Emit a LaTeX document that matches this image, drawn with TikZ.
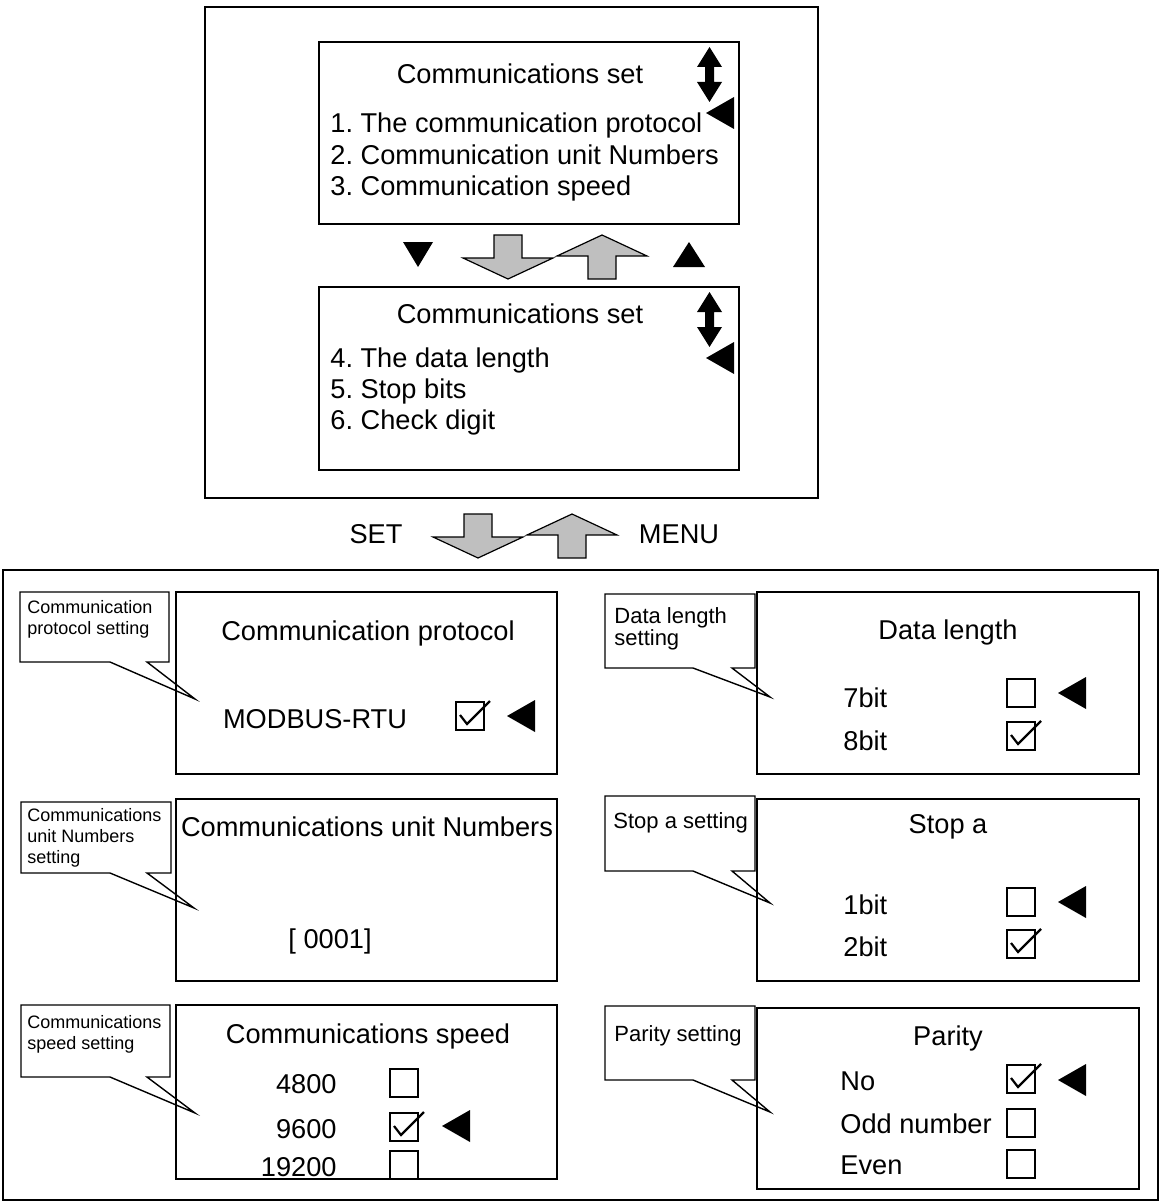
\documentclass[tikz,border=0pt]{standalone}
\usepackage{fontspec}
\setmainfont{Liberation Sans}
\frenchspacing
\tikzset{
  frame/.style={line width=1pt},
  panel/.style={line width=1.1pt},
  txt/.style={font=\fontsize{13.6}{16}\selectfont,inner sep=0pt},
  note/.style={font=\fontsize{9}{10.5}\selectfont,inner sep=0pt,align=left,anchor=north west},
  bignote/.style={font=\fontsize{11}{11}\selectfont,inner sep=0pt,align=left,anchor=north west},
  callout/.style={draw,fill=white,line width=0.7pt},
  pics/tick box/.style={code={
    \draw[line width=0.8pt] (-14,-14) rectangle (14,14);
    \draw[line width=1.1pt] (-10,-1) -- (-3,8) -- (20,-15);}},
  pics/empty box/.style={code={
    \draw[line width=0.8pt] (-14,-14) rectangle (14,14);}},
  pics/pointer/.style={code={
    \fill (0,0) -- (28,-16) -- (28,16) -- cycle;}},
  pics/scroll/.style={code={
    \fill (0,0) -- (12.5,20) -- (4.5,20) -- (4.5,35) -- (12.5,35) -- (0,55)
      -- (-12.5,35) -- (-4.5,35) -- (-4.5,20) -- (-12.5,20) -- cycle;}},
  pics/gray down/.style={code={
    \draw[fill=black!25,line width=0.6pt] (0,0) -- (-45,-21) -- (-14,-21) -- (-14,-44)
      -- (14,-44) -- (14,-21) -- (45,-21) -- cycle;}},
  pics/gray up/.style={code={
    \draw[fill=black!25,line width=0.6pt] (0,0) -- (45,21) -- (14,21) -- (14,44)
      -- (-14,44) -- (-14,21) -- (-45,21) -- cycle;}}
}
\begin{document}
\begin{tikzpicture}[x=0.5pt,y=-0.5pt]
\useasboundingbox (0,0) rectangle (1163,1204);
% menu screens
\draw[frame] (205,7) rectangle (818,498);
\draw[frame] (319,42) rectangle (739,224);
\draw[frame] (319,287) rectangle (739,470);
\node[txt,anchor=base] (menuA) at (520,84) {Communications set};
\node[txt,anchor=base west] (itemA) at (330,133) {1. The communication protocol};
\node[txt,anchor=base west] (itemB) at (330,164) {2. Communication unit Numbers};
\node[txt,anchor=base west] (itemC) at (330,195) {3. Communication speed};
\pic at (709.5,47) {scroll};
\pic at (706,113) {pointer};
\node[txt,anchor=base] (menuB) at (520,323) {Communications set};
\node[txt,anchor=base west] (itemD) at (330,367) {4. The data length};
\node[txt,anchor=base west] (itemE) at (330,398) {5. Stop bits};
\node[txt,anchor=base west] (itemF) at (330,429) {6. Check digit};
\pic at (709.5,292) {scroll};
\pic at (706,358) {pointer};
% page keys
\fill (403,242) -- (433,242) -- (418,267) -- cycle;
\fill (673,267) -- (705,267) -- (689,242) -- cycle;
\pic at (508,279) {gray down};
\pic at (602,235) {gray up};
\node[txt,anchor=base] (setkey) at (376,543) {SET};
\node[txt,anchor=base] (menukey) at (679,543) {MENU};
\pic at (478,558) {gray down};
\pic at (572,514) {gray up};
% setting screens
\draw[frame] (3,570) rectangle (1158,1200);
\draw[callout] (20,592) -- (169,592) -- (169,662) -- (147,662) -- (195,699) -- (110,662) -- (20,662) -- cycle;
\node[note] (noteA) at (27,600) {Communication\\protocol setting};
\draw[callout] (21,802) -- (171,802) -- (171,873) -- (147,873) -- (194,908) -- (110,873) -- (21,873) -- cycle;
\node[note] (noteB) at (27,808) {Communications\\unit Numbers\\setting};
\draw[callout] (21,1005) -- (170,1005) -- (170,1077) -- (147,1077) -- (195,1113) -- (110,1077) -- (21,1077) -- cycle;
\node[note] (noteC) at (27,1015) {Communications\\speed setting};
\draw[callout] (605,594) -- (755,594) -- (755,668) -- (732,668) -- (770,697) -- (693,668) -- (605,668) -- cycle;
\node[bignote] (noteD) at (614,607) {Data length\\setting};
\draw[callout] (605,796) -- (755,796) -- (755,871) -- (732,871) -- (770,903) -- (693,871) -- (605,871) -- cycle;
\node[bignote] (noteE) at (613,812) {Stop a setting};
\draw[callout] (605,1006) -- (755,1006) -- (755,1080) -- (732,1080) -- (770,1112) -- (693,1080) -- (605,1080) -- cycle;
\node[bignote] (noteF) at (614,1025) {Parity setting};
% left column
\draw[panel] (176,592) rectangle (557,774);
\node[txt,anchor=base] (protocol) at (368,640) {Communication protocol};
\node[txt,anchor=base] (modbus) at (315,728) {MODBUS-RTU};
\pic at (470,716) {tick box};
\pic at (507,716) {pointer};
\draw[panel] (176,799) rectangle (557,981);
\node[txt,anchor=base] (unitno) at (367,836) {Communications unit Numbers};
\node[txt,anchor=base] (address) at (330,948) {[ 0001]};
\draw[panel] (176,1005) rectangle (557,1179);
\node[txt,anchor=base] (speed) at (368,1043) {Communications speed};
\node[txt,anchor=base east] (baudA) at (337,1093) {4800};
\node[txt,anchor=base east] (baudB) at (337,1138) {9600};
\node[txt,anchor=base east] (baudC) at (337,1176) {19200};
\pic at (404,1083) {empty box};
\pic at (404,1127) {tick box};
\pic at (404,1165) {empty box};
\pic at (442,1126) {pointer};
% right column
\draw[panel] (757,592) rectangle (1139,774);
\node[txt,anchor=base] (datalen) at (948,639) {Data length};
\node[txt,anchor=base west] (bitsA) at (843,707) {7bit};
\node[txt,anchor=base west] (bitsB) at (843,750) {8bit};
\pic at (1021,693) {empty box};
\pic at (1021,736) {tick box};
\pic at (1058,693) {pointer};
\draw[panel] (757,799) rectangle (1139,981);
\node[txt,anchor=base] (stopbit) at (948,833) {Stop a};
\node[txt,anchor=base west] (stopA) at (843,914) {1bit};
\node[txt,anchor=base west] (stopB) at (843,956) {2bit};
\pic at (1021,902) {empty box};
\pic at (1021,944) {tick box};
\pic at (1058,902) {pointer};
\draw[panel] (757,1008) rectangle (1139,1189);
\node[txt,anchor=base] (parity) at (948,1045) {Parity};
\node[txt,anchor=base west] (parA) at (840,1090) {No};
\node[txt,anchor=base west] (parB) at (840,1133) {Odd number};
\node[txt,anchor=base west] (parC) at (840,1174) {Even};
\pic at (1021,1079) {tick box};
\pic at (1021,1123) {empty box};
\pic at (1021,1164) {empty box};
\pic at (1058,1080) {pointer};
\end{tikzpicture}
\end{document}
